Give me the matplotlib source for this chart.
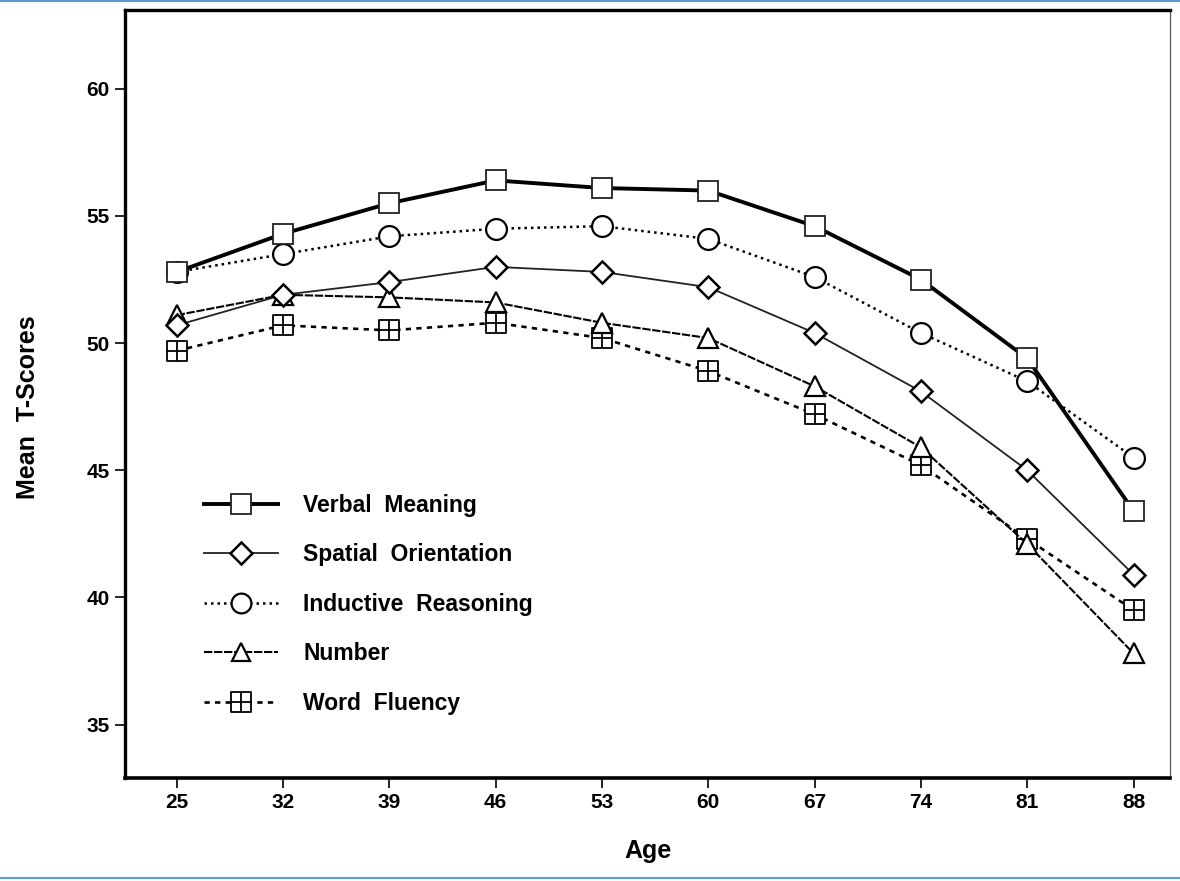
import matplotlib.pyplot as plt
import numpy as np
from matplotlib.path import Path
from matplotlib.lines import Line2D

ages = [25, 32, 39, 46, 53, 60, 67, 74, 81, 88]

verbal = [52.8, 54.3, 55.5, 56.4, 56.1, 56.0, 54.6, 52.5, 49.4, 43.4]
spatial = [50.7, 51.9, 52.4, 53.0, 52.8, 52.2, 50.4, 48.1, 45.0, 40.9]
inductive = [52.8, 53.5, 54.2, 54.5, 54.6, 54.1, 52.6, 50.4, 48.5, 45.5]
number = [51.1, 51.9, 51.8, 51.6, 50.8, 50.2, 48.3, 45.9, 42.1, 37.8]
fluency = [49.7, 50.7, 50.5, 50.8, 50.2, 48.9, 47.2, 45.2, 42.3, 39.5]

labels = ['Verbal  Meaning', 'Spatial  Orientation', 'Inductive  Reasoning',
          'Number', 'Word  Fluency']

plt.rcParams['font.family'] = 'Liberation Sans'
plt.rcParams['font.weight'] = 'bold'

# square with a cross inside, for word fluency
verts = [(-1, -1), (1, -1), (1, 1), (-1, 1), (-1, -1),
         (0, -1), (0, 1), (-1, 0), (1, 0)]
codes = [Path.MOVETO, Path.LINETO, Path.LINETO, Path.LINETO, Path.CLOSEPOLY,
         Path.MOVETO, Path.LINETO, Path.MOVETO, Path.LINETO]
boxcross = Path(verts, codes)

fig = plt.figure(figsize=(11.8, 8.81), dpi=100)
ax = fig.add_axes([0.106, 0.117, 0.8855, 0.8716])

ax.plot(ages, verbal, color='black', lw=2.8, marker='s', ms=15,
        mfc='white', mec='#222222', mew=1.3, label=labels[0], zorder=5)
ax.plot(ages, spatial, color='#222222', lw=1.3, marker='D', ms=11.5,
        mfc='white', mec='black', mew=1.8, label=labels[1], zorder=4)
ax.plot(ages, inductive, color='black', lw=1.8, ls=(0, (1, 1.6)), marker='o', ms=15,
        mfc='white', mec='black', mew=1.6, label=labels[2], zorder=3)
ax.plot(ages, number, color='black', lw=1.5, ls=(0, (4, 0.8)), marker='^', ms=14,
        mfc='white', mec='black', mew=1.6, label=labels[3], zorder=3)
ax.plot(ages, fluency, color='black', lw=1.9, ls=(0, (2, 2)), marker=boxcross, ms=14.5,
        mfc='white', mec='black', mew=1.3, label=labels[4], zorder=2)

ax.set_xlim(21.6, 90.4)
ax.set_ylim(32.9, 63.1)
ax.set_xticks(ages)
ax.set_yticks([35, 40, 45, 50, 55, 60])
ax.tick_params(direction='out', length=7, width=1.2, labelsize=15, pad=4)
for lab in ax.get_xticklabels() + ax.get_yticklabels():
    lab.set_fontweight('bold')

ax.spines['left'].set_linewidth(2.4)
ax.spines['bottom'].set_linewidth(2.6)
ax.spines['top'].set_linewidth(2.4)
ax.spines['right'].set_linewidth(0.9)
ax.spines['right'].set_color('#555555')

ax.set_xlabel('Age', fontsize=18, fontweight='bold', labelpad=19)
ax.set_ylabel('Mean  T-Scores', fontsize=18, fontweight='bold')
ax.yaxis.set_label_coords(-0.081, 0.483)

leg = ax.legend(loc='upper left', bbox_to_anchor=(0.056, 0.397), frameon=False,
                prop={'size': 16.5, 'weight': 'bold'}, handlelength=3.23,
                labelspacing=1.16, handletextpad=1.1, markerscale=0.95)

# light blue frame lines of the screenshot
fig.add_artist(Line2D([0, 1], [0.9985, 0.9985], color='#5b9bd5', lw=1.5))
fig.add_artist(Line2D([0, 1], [0.003, 0.003], color='#5b9bd5', lw=1.5))

plt.savefig('out.png', dpi=100)
